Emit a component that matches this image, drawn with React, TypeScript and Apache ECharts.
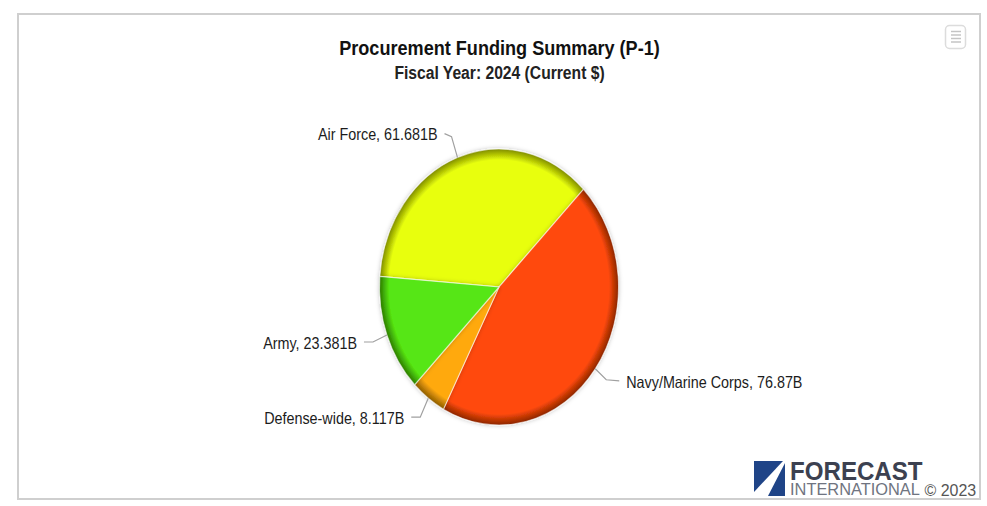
import React, { useEffect, useRef } from "react";
import * as echarts from "echarts";

const titleText = "Procurement Funding Summary (P-1)";
const subtitleText = "Fiscal Year: 2024 (Current $)";
const categories = ["Air Force", "Navy/Marine Corps", "Defense-wide", "Army"];
const values = [61.681, 76.87, 8.117, 23.381];
const valueLabels = ["61.681B", "76.87B", "8.117B", "23.381B"];
const baseColors = ["#E8FF0A", "#FF4A0A", "#FFA90F", "#57E612"];
const rimColors = ["#7F8C00", "#8A2600", "#8A5A00", "#2B7A00"];

const FONT = "'Liberation Sans', Arial, sans-serif";
const CX = 499;
const CY = 287;
const RX = 119.5;
const RY = 138;
const START_DEG = 274.4;
const TOTAL = values.reduce((a, b) => a + b, 0);
// Leader-line elbow and end, relative to the rim point of each slice
const leaders = [
  { elbow: [-6, -21], end: [-13, -24] },
  { elbow: [11, 11], end: [24, 12] },
  { elbow: [-8, 19], end: [-17, 19] },
  { elbow: [-14, 7], end: [-23, 7] },
];

function renderSlice(params: any, api: any) {
  const i = params.dataIndex;
  let before = 0;
  for (let k = 0; k < i; k++) before += values[k];
  const v = api.value(0) as number;
  const a0 = START_DEG + (before / TOTAL) * 360;
  const a1 = a0 + (v / TOTAL) * 360;
  const mid = ((a0 + a1) / 2) * (Math.PI / 180);
  const toZr = (d: number) => ((d - 90) * Math.PI) / 180;
  const rimX = CX + RX * Math.sin(mid);
  const rimY = CY - RY * Math.cos(mid);
  const l = leaders[i];
  const endX = rimX + l.end[0];
  const endY = rimY + l.end[1];
  const right = l.end[0] > 0;
  return {
    type: "group",
    children: [
      {
        type: "sector",
        x: CX,
        y: CY,
        scaleY: RY / RX,
        shape: { cx: 0, cy: 0, r0: 0, r: RX, startAngle: toZr(a0), endAngle: toZr(a1), clockwise: true },
        style: {
          fill: new echarts.graphic.RadialGradient(
            0, 0, RX,
            [
              { offset: 0, color: baseColors[i] },
              { offset: 0.92, color: baseColors[i] },
              { offset: 1, color: rimColors[i] },
            ],
            true
          ),
          stroke: "rgba(255,255,255,0.6)",
          lineWidth: 1,
          shadowBlur: 4,
          shadowColor: "rgba(0,0,0,0.25)",
        },
      },
      {
        type: "polyline",
        silent: true,
        shape: { points: [[rimX, rimY], [rimX + l.elbow[0], rimY + l.elbow[1]], [endX, endY]] },
        style: { stroke: "#a0a0a0", lineWidth: 1.2, fill: "none" },
      },
      {
        type: "text",
        x: endX + (right ? 7 : -7),
        y: endY + 1,
        scaleX: 0.87,
        style: {
          x: 0,
          y: 0,
          text: `${categories[i]}, ${valueLabels[i]}`,
          font: `16.5px ${FONT}`,
          fill: "#1c1c1c",
          align: right ? "left" : "right",
          verticalAlign: "middle",
        },
      },
    ],
  };
}

export default function App() {
  const ref = useRef<HTMLDivElement>(null);
  useEffect(() => {
    const chart = echarts.init(ref.current!, null, { renderer: "svg" });
    chart.setOption({
      animation: false,
      backgroundColor: "#ffffff",
      series: [
        {
          type: "custom",
          coordinateSystem: "none",
          renderItem: renderSlice,
          data: values.map((v, i) => ({ name: categories[i], value: [v] })),
          z: 5,
        },
      ],
      graphic: [
        {
          type: "rect",
          z: 1,
          shape: { x: 18, y: 14, width: 962, height: 485 },
          style: { fill: "#fff", stroke: "#cfcfcf", lineWidth: 2 },
        },
        {
          type: "text", z: 10, x: 499.5, y: 47.5, scaleX: 0.87,
          style: { x: 0, y: 0, text: titleText, font: `bold 20.8px ${FONT}`, fill: "#111", align: "center", verticalAlign: "middle" },
        },
        {
          type: "text", z: 10, x: 499.5, y: 73.5, scaleX: 0.87,
          style: { x: 0, y: 0, text: subtitleText, font: `bold 18px ${FONT}`, fill: "#222", align: "center", verticalAlign: "middle" },
        },
        {
          type: "rect", z: 10,
          shape: { x: 945.5, y: 25.5, width: 20, height: 23, r: 4 },
          style: { fill: "#fff", stroke: "#dcdcdc", lineWidth: 1.5 },
        },
        ...[31.5, 35, 38.5, 42].map((y) => ({
          type: "line", z: 11,
          shape: { x1: 951, y1: y, x2: 961, y2: y },
          style: { stroke: "#c4c4c4", lineWidth: 1.5 },
        })),
        {
          type: "polygon", z: 10,
          shape: { points: [[754, 461], [783, 461], [754, 492]] },
          style: { fill: "#1F4487" },
        },
        {
          type: "polygon", z: 10,
          shape: { points: [[785, 463], [785, 496], [768, 496]] },
          style: { fill: "#1F4487" },
        },
        {
          type: "text", z: 10, x: 790, y: 471, scaleX: 0.965,
          style: { x: 0, y: 0, text: "FORECAST", font: `bold 25px ${FONT}`, fill: "#3C4150", align: "left", verticalAlign: "middle" },
        },
        {
          type: "text", z: 10, x: 790, y: 489.5, scaleX: 0.965,
          style: { x: 0, y: 0, text: "INTERNATIONAL", font: `17px ${FONT}`, fill: "#6F7480", align: "left", verticalAlign: "middle" },
        },
        {
          type: "text", z: 10, x: 924.5, y: 489.5, scaleX: 0.94,
          style: { x: 0, y: 0, text: "© 2023", font: `17px ${FONT}`, fill: "#555", align: "left", verticalAlign: "middle" },
        },
      ],
    });
    return () => chart.dispose();
  }, []);
  return <div ref={ref} style={{ position: "fixed", left: 0, top: 0, width: 987, height: 506, background: "#fff" }} />;
}
